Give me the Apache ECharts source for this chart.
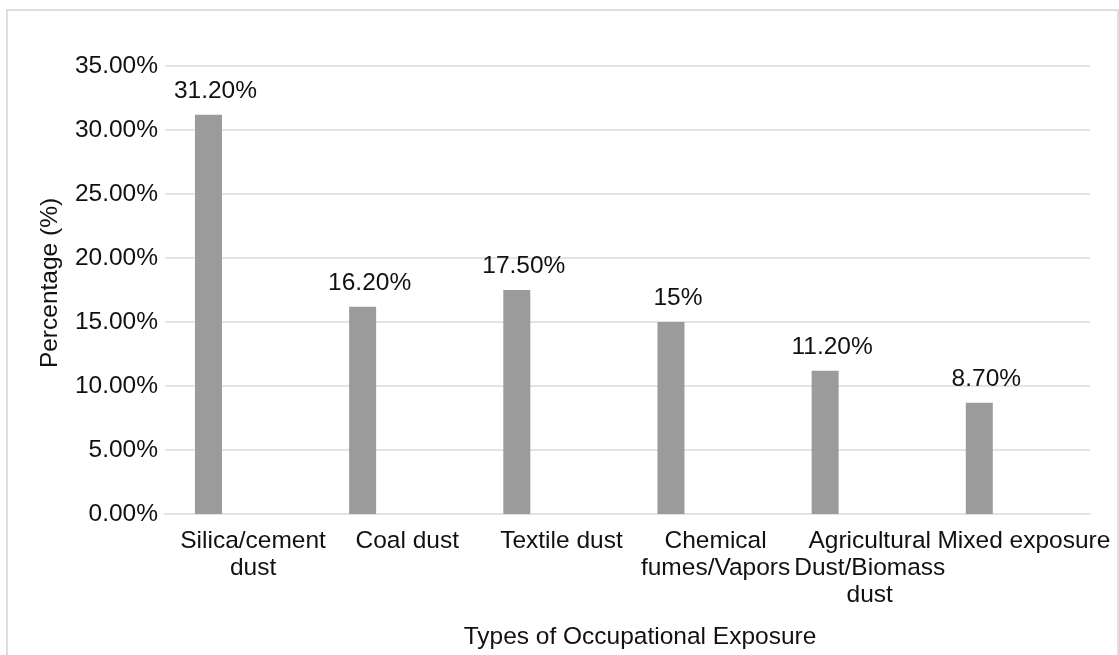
<!DOCTYPE html>
<html lang="en">
<head>
    <meta charset="UTF-8">
    <title>Types of Occupational Exposure</title>
    <script src="https://cdn.jsdelivr.net/npm/echarts@6/dist/echarts.min.js"></script>
    <style>
        html, body { margin: 0; padding: 0; background: #fff; }
    </style>
</head>
<body>
    <div id="main" style="width: 1119px;height: 655px"></div>

    <script type="text/javascript">
        // category names, line breaks as they appear under the axis
        var categories = ['Silica/cement\ndust', 'Coal dust', 'Textile dust', 'Chemical\nfumes/Vapors', 'Agricultural\nDust/Biomass\ndust', 'Mixed exposure'];
        var percentages = [31.2, 16.2, 17.5, 15, 11.2, 8.7];
        var valueLabels = ['31.20%', '16.20%', '17.50%', '15%', '11.20%', '8.70%'];
        var yTicks = [0, 5, 10, 15, 20, 25, 30, 35];

        var font = 'Liberation Sans, Arial, Helvetica, sans-serif';
        var fs = 24.5;
        var myChart = echarts.init(document.getElementById('main'));

        myChart.setOption({
            animation: false,
            textStyle: { fontFamily: font },
            graphic: [{
                type: 'rect',
                shape: { x: 7, y: 10, width: 1111, height: 700 },
                style: { fill: 'none', stroke: '#dedede', lineWidth: 2 },
                silent: true
            }],
            grid: { left: 165, right: 29, top: 66, bottom: 137 },
            xAxis: {
                type: 'category',
                data: categories,
                name: 'Types of Occupational Exposure',
                nameLocation: 'middle',
                nameGap: 111,
                nameTextStyle: { fontSize: fs, color: '#111', fontFamily: font, padding: [0, 0, 0, 25] },
                axisLine: { lineStyle: { color: '#e3e3e3', width: 2 } },
                axisTick: { show: false },
                axisLabel: {
                    interval: 0,
                    margin: 14,
                    fontSize: fs,
                    lineHeight: 27,
                    color: '#111',
                    fontFamily: font,
                    padding: [0, 0, 0, 22]
                }
            },
            yAxis: {
                type: 'value',
                min: yTicks[0],
                max: yTicks[yTicks.length - 1],
                interval: 5,
                name: 'Percentage (%)',
                nameLocation: 'middle',
                nameGap: 102,
                nameTextStyle: { fontSize: fs, color: '#111', fontFamily: font, padding: [0, 0, 0, 14] },
                axisLine: { show: false },
                axisTick: { show: false },
                splitLine: { lineStyle: { color: '#e3e3e3', width: 2 } },
                axisLabel: {
                    margin: 7,
                    fontSize: fs,
                    color: '#111',
                    fontFamily: font,
                    formatter: function (v) { return v.toFixed(2) + '%'; }
                }
            },
            series: [{
                type: 'bar',
                data: percentages,
                barWidth: 27,
                barGap: '149%',
                itemStyle: { color: '#9b9b9b' },
                label: {
                    show: true,
                    position: 'top',
                    distance: 11,
                    offset: [7, 0],
                    fontSize: fs,
                    color: '#111',
                    fontFamily: font,
                    formatter: function (p) { return valueLabels[p.dataIndex]; }
                }
            }, {
                /* 空的第二个系列, 让柱子偏到类目左侧 */
                type: 'bar',
                data: [],
                barWidth: 27
            }]
        });
    </script>
</body>
</html>
